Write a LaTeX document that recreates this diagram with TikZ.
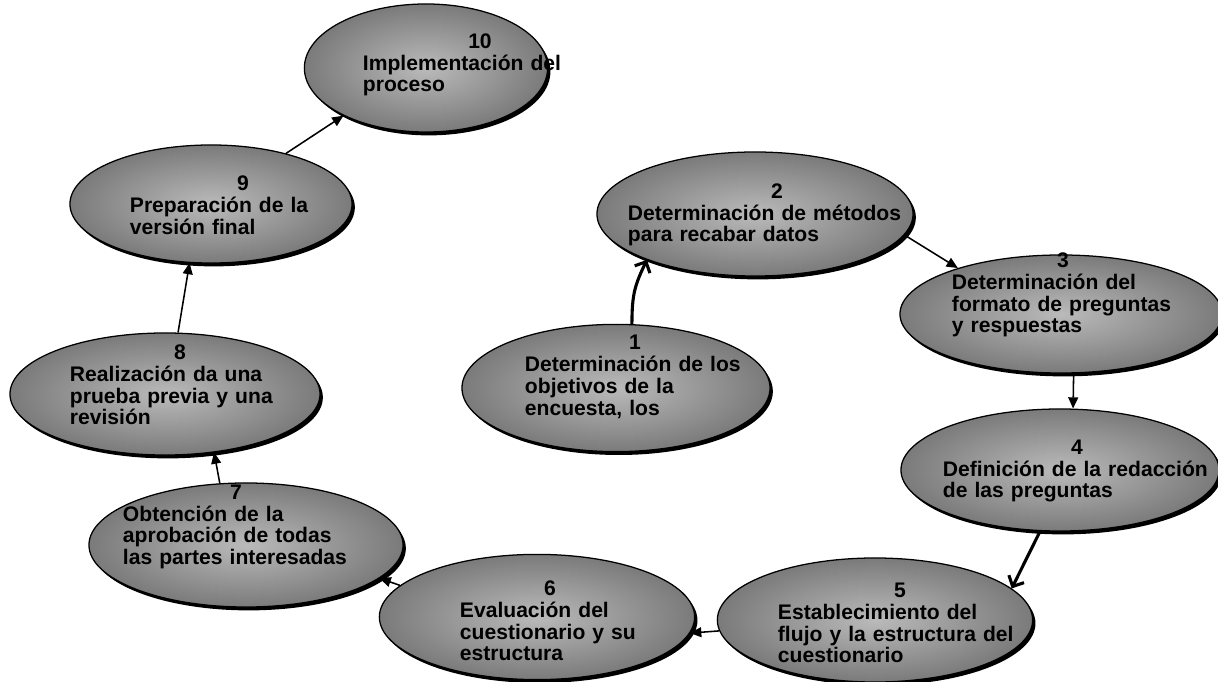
\documentclass[tikz,border=0pt]{standalone}
\usepackage{fontspec}
\setmainfont{Liberation Sans}
\usetikzlibrary{shapes.geometric,arrows.meta,shadows}

\begin{document}
\begin{tikzpicture}[x=0.025cm, y=-0.025cm,
    stage/.style={ellipse, draw=black, line width=0.9pt, inner color=black!27, outer color=black!52,
        drop shadow={shadow xshift=2pt, shadow yshift=-2.4pt, fill=black, opacity=1}},
    txt/.style={font=\fontsize{15}{15.5}\selectfont\bfseries, align=left, inner sep=0pt},
    link/.style={line width=1.1pt, -{Triangle[length=8pt, width=7pt]}},
    heavy/.style={line width=2.2pt, -{Straight Barb[length=6pt, width=12pt]}}]
    \useasboundingbox (0,0) rectangle (1218,682);

    % Stages
    \node[stage, minimum width=7.70cm, minimum height=3.18cm] (e1) at (616,388) {};
    \node[stage, minimum width=7.90cm, minimum height=3.10cm] (e2) at (755,214) {};
    \node[stage, minimum width=8.05cm, minimum height=2.95cm] (e3) at (1061,314) {};
    \node[stage, minimum width=7.95cm, minimum height=3.05cm] (e4) at (1060,470) {};
    \node[stage, minimum width=7.88cm, minimum height=3.10cm] (e5) at (875,620) {};
    \node[stage, minimum width=7.88cm, minimum height=3.13cm] (e6) at (537,617) {};
    \node[stage, minimum width=7.85cm, minimum height=3.10cm] (e7) at (246,545) {};
    \node[stage, minimum width=7.75cm, minimum height=3.05cm] (e8) at (165,394) {};
    \node[stage, minimum width=7.05cm, minimum height=2.95cm] (e9) at (211,204) {};
    \node[stage, minimum width=6.08cm, minimum height=3.20cm] (e10) at (426,68) {};

    % Labels
    \node[txt, text width=5.50cm] (t1) at (635,377) {{\centering 1\par}Determinación de los\\objetivos de la\\encuesta, los};
    \node[txt, text width=7.45cm] (t2) at (777,215) {{\centering 2\par}Determinación de métodos\\para recabar datos};
    \node[txt, text width=5.55cm] (t3) at (1063,295) {{\centering 3\par}Determinación del\\formato de preguntas\\y respuestas};
    \node[txt, text width=6.70cm] (t4) at (1077,471) {{\centering 4\par}Definición de la redacción\\de las preguntas};
    \node[txt, text width=6.10cm] (t5) at (900,623) {{\centering 5\par}Establecimiento del\\flujo y la estructura del\\cuestionario};
    \node[txt, text width=4.50cm] (t6) at (550,621) {{\centering 6\par}Evaluación del\\cuestionario y su\\estructura};
    \node[txt, text width=5.65cm] (t7) at (236,527) {{\centering 7\par}Obtención de la\\aprobación de todas\\las partes interesadas};
    \node[txt, text width=5.50cm] (t8) at (180,385) {{\centering 8\par}Realización da una\\prueba previa y una\\revisión};
    \node[txt, text width=5.65cm] (t9) at (243,205) {{\centering 9\par}Preparación de la\\versión final};
    \node[txt, text width=5.85cm] (t10) at (480,65) {{\centering 10\par}Implementación del\\proceso};

    % Arrows
    \draw[heavy] (e1.76) .. controls +(0,-30) and +(-12,25) .. (e2.-157.5);
    \draw[link] (e2.-8) -- (e3.156);
    \draw[link] (e3.-78) -- (e4.78);
    \draw[heavy] (e4.-108) -- (e5.13);
    \draw[link] (e5.184) -- (e6.-6);
    \draw[link] (e6.167) -- (e7.-14);
    \draw[link] (e7.113) -- (e8.-50);
    \draw[link] (e8.78) -- (e9.-110);
    \draw[link] (e9.34) -- (e10.-150);
\end{tikzpicture}
\end{document}
